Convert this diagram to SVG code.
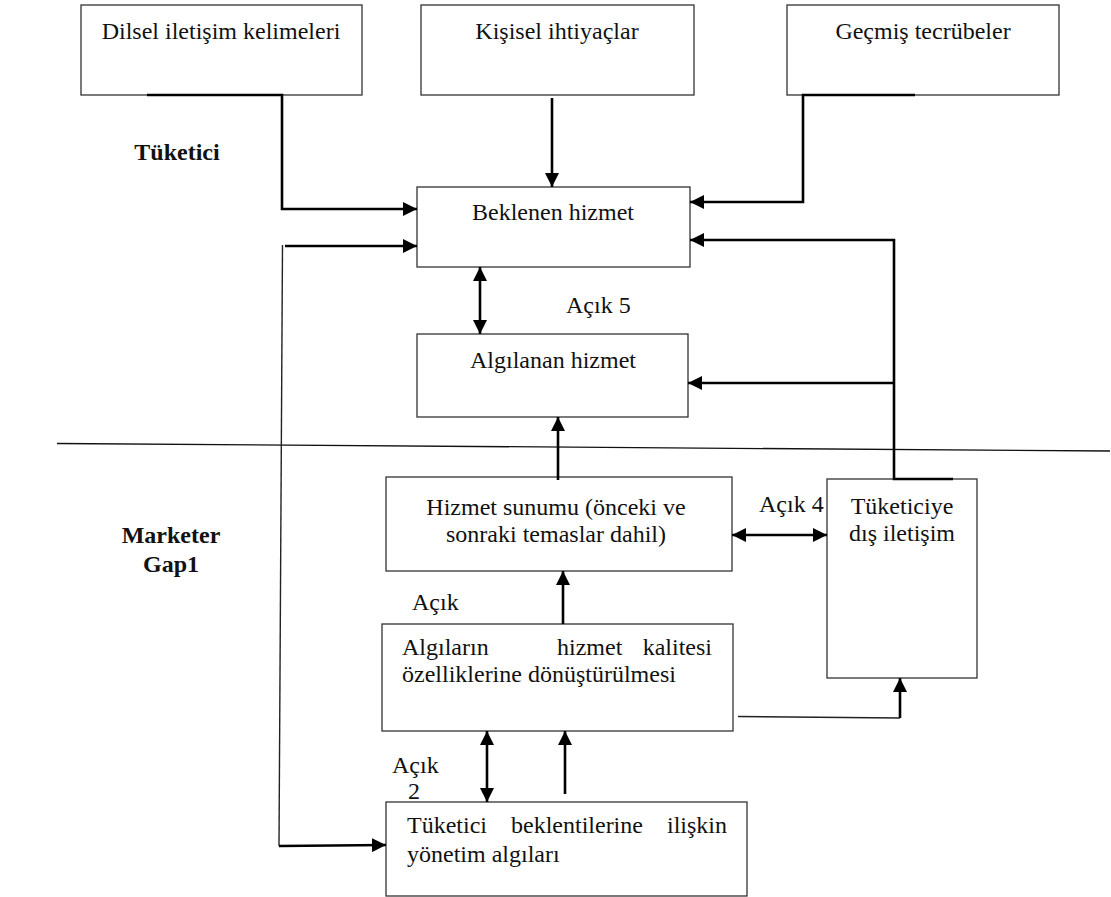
<svg xmlns="http://www.w3.org/2000/svg" width="1111" height="897" viewBox="0 0 1111 897">
<style>
.box{fill:#fff;stroke:#333;stroke-width:1.3}
.t{font-family:"Liberation Serif","Times New Roman",serif;font-size:24px;fill:#111}
.c{text-anchor:middle}
.b{font-weight:bold}
.thick{fill:none;stroke:#000;stroke-width:2.6}
.thin{fill:none;stroke:#222;stroke-width:1.4}
</style>
<defs>
<marker id="ah" viewBox="0 0 14 14" refX="14" refY="7" markerWidth="14" markerHeight="14" markerUnits="userSpaceOnUse" orient="auto-start-reverse">
<path d="M0,0 L14,7 L0,14 z" fill="#000"/>
</marker>
</defs>
<rect width="1111" height="897" fill="#fff"/>

<g id="labels">
<text class="t b c" x="177" y="160">Tüketici</text>
<text class="t b c" x="171" y="543">Marketer</text>
<text class="t b c" x="171" y="572">Gap1</text>
<text class="t" x="566" y="313">Açık 5</text>
<text class="t" x="759" y="512">Açık 4</text>
<text class="t" x="412" y="610">Açık</text>
<text class="t" x="392" y="773">Açık</text>
<text class="t" x="408" y="799">2</text>
</g>

<g id="divider">
<line x1="57" y1="443.5" x2="1110" y2="451" stroke="#111" stroke-width="1.3"/>
</g>

<g id="n1"><rect class="box" x="81" y="5" width="281" height="90"/><text class="t c" x="221" y="39">Dilsel iletişim kelimeleri</text></g>
<g id="n2"><rect class="box" x="421" y="5" width="273" height="90"/><text class="t c" x="557" y="39">Kişisel ihtiyaçlar</text></g>
<g id="n3"><rect class="box" x="787" y="5" width="272" height="90"/><text class="t c" x="923" y="39">Geçmiş tecrübeler</text></g>
<g id="n4"><rect class="box" x="417" y="187" width="273" height="80"/><text class="t c" x="553" y="220">Beklenen hizmet</text></g>
<g id="n5"><rect class="box" x="417" y="334" width="271" height="83"/><text class="t c" x="553" y="368">Algılanan hizmet</text></g>
<g id="n6"><rect class="box" x="386" y="477" width="346" height="94"/><text class="t c" x="556" y="515">Hizmet sunumu (önceki ve</text><text class="t c" x="556" y="542">sonraki temaslar dahil)</text></g>
<g id="n7"><rect class="box" x="827" y="479" width="150" height="199"/><text class="t c" x="902" y="514">Tüketiciye</text><text class="t c" x="902" y="541">dış iletişim</text></g>
<g id="n8"><rect class="box" x="382" y="624" width="351" height="107"/>
<text class="t" x="402" y="655">Algıların</text><text class="t" x="557" y="655">hizmet</text><text class="t" x="712" y="655" text-anchor="end">kalitesi</text>
<text class="t" x="402" y="682">özelliklerine dönüştürülmesi</text></g>
<g id="n9"><rect class="box" x="386" y="802" width="361" height="94"/>
<text class="t" x="407" y="833">Tüketici</text><text class="t" x="511" y="833">beklentilerine</text><text class="t" x="727" y="833" text-anchor="end">ilişkin</text>
<text class="t" x="407" y="862">yönetim algıları</text></g>

<g id="connectors">
<path class="thick" d="M147,95 L282,95 L282,209 L417,209" marker-end="url(#ah)"/>
<path class="thick" d="M552,98 L552,187" marker-end="url(#ah)"/>
<path class="thick" d="M915,95 L803,95 L803,202 L690,202" marker-end="url(#ah)"/>
<path class="thick" d="M953,479 L894,479 L894,240 L690,240" marker-end="url(#ah)"/>
<path class="thick" d="M894,383 L688,383" marker-end="url(#ah)"/>
<path class="thick" d="M285,246 L417,246" marker-end="url(#ah)"/>
<path class="thin" d="M282.5,245 L279,846"/>
<path class="thick" d="M279,846 L386,845" marker-end="url(#ah)"/>
<path class="thick" d="M480,267 L480,334" marker-start="url(#ah)" marker-end="url(#ah)"/>
<path class="thick" d="M558,480 L558,417" marker-end="url(#ah)"/>
<path class="thick" d="M732,535 L827,535" marker-start="url(#ah)" marker-end="url(#ah)"/>
<path class="thick" d="M563,624 L563,571" marker-end="url(#ah)"/>
<path class="thin" d="M738,716.5 L900,718"/>
<path class="thick" d="M900,718 L900,678" marker-end="url(#ah)"/>
<path class="thick" d="M487,731 L487,802" marker-start="url(#ah)" marker-end="url(#ah)"/>
<path class="thick" d="M565,794 L565,731" marker-end="url(#ah)"/>
</g>
</svg>
